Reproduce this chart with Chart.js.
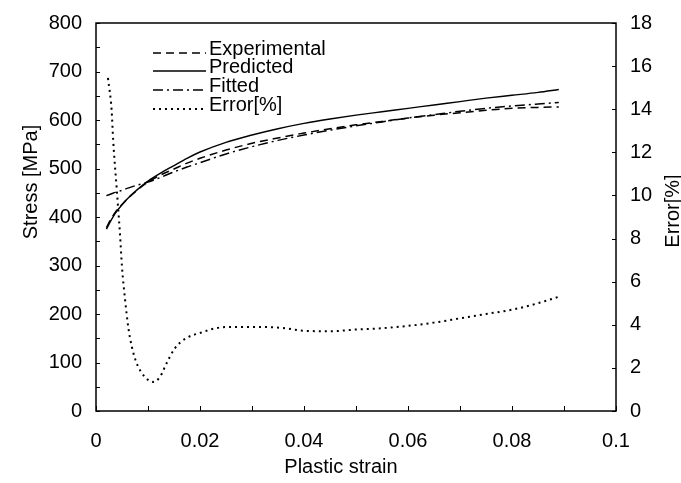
<!DOCTYPE html>
<html>
<head>
<meta charset="utf-8">
<script src="https://cdn.jsdelivr.net/npm/chart.js@4/dist/chart.umd.min.js"></script>
<style>
  html, body { margin: 0; background: #fff; }
  #wrap { width: 681px; height: 483px; }
</style>
</head>
<body>
<div id="wrap"><canvas id="c"></canvas></div>
<script>
// ---- data ----
const strain       = [0.002, 0.003, 0.004, 0.005, 0.006, 0.008, 0.010, 0.0125, 0.015, 0.0175, 0.020, 0.025, 0.030, 0.035, 0.040, 0.045, 0.050, 0.055, 0.060, 0.065, 0.070, 0.075, 0.080, 0.085, 0.089];
const experimental = [378, 398, 414, 426, 437, 456, 472, 487, 499, 511, 521, 538, 552, 563, 573, 582, 590, 597, 604, 610, 615, 620, 624, 626, 627];
const predicted    = [375, 395, 412, 425, 437, 457, 474, 491, 506, 521, 534, 554, 569, 582, 593, 602, 610, 617, 624, 631, 638, 645, 651, 657, 663];
const fitted       = [444, 448, 452, 455, 459, 466, 472, 482, 493, 503, 512, 530, 545, 558, 569, 579, 588, 596, 604, 611, 618, 624, 629, 633, 636];

const errStrain = [0.0023, 0.0030, 0.0033, 0.0040, 0.0046, 0.0050, 0.0056, 0.0062, 0.0069, 0.0078, 0.0094, 0.0110, 0.0123, 0.0136, 0.0152, 0.0174, 0.0200, 0.0232, 0.0263, 0.0309, 0.036, 0.040, 0.045, 0.050, 0.055, 0.060, 0.065, 0.070, 0.075, 0.080, 0.085, 0.089];
const errorPct  = [15.45, 13.96, 12.57, 10.25, 8.26, 6.68, 5.15, 3.90, 2.97, 2.23, 1.58, 1.35, 1.58, 2.23, 2.92, 3.39, 3.62, 3.85, 3.90, 3.90, 3.85, 3.72, 3.70, 3.78, 3.84, 3.95, 4.10, 4.30, 4.50, 4.70, 5.00, 5.30];

const seriesNames = ['Experimental', 'Predicted', 'Fitted', 'Error[%]'];

const FONT = "'Liberation Sans', Arial, sans-serif";
const FSIZE = 20;

function pts(xs, ys) {
    return xs.map((x, i) => ({ x: x, y: ys[i] }));
}

// frame, inward tick marks, axis titles and legend
const decorations = {
    id: 'decorations',
    afterDatasetsDraw(chart) {
        const ctx = chart.ctx;
        const a = chart.chartArea;
        const sx = chart.scales.x, sy = chart.scales.y, sy2 = chart.scales.y2;
        ctx.save();
        ctx.strokeStyle = '#000';
        ctx.lineWidth = 1.5;
        ctx.setLineDash([]);
        ctx.strokeRect(a.left, a.top, a.right - a.left, a.bottom - a.top);

        ctx.lineWidth = 1;
        ctx.beginPath();
        for (let v = 0; v <= 800; v += 50) {
            const p = Math.round(sy.getPixelForValue(v)) + 0.5;
            ctx.moveTo(a.left, p); ctx.lineTo(a.left + 4, p);
        }
        for (let v = 0; v <= 18; v += 2) {
            const p = Math.round(sy2.getPixelForValue(v)) + 0.5;
            ctx.moveTo(a.right, p); ctx.lineTo(a.right - 4, p);
        }
        for (let k = 0; k <= 10; k++) {
            const p = Math.round(sx.getPixelForValue(k / 100)) + 0.5;
            ctx.moveTo(p, a.bottom); ctx.lineTo(p, a.bottom - 5);
        }
        ctx.stroke();

        // axis titles
        ctx.fillStyle = '#000';
        ctx.font = FSIZE + 'px ' + FONT;
        ctx.textAlign = 'center';
        ctx.textBaseline = 'middle';
        ctx.fillText('Plastic strain', 341, 467);
        ctx.save();
        ctx.translate(31, 182);
        ctx.rotate(-Math.PI / 2);
        ctx.fillText('Stress [MPa]', 0, 0);
        ctx.restore();
        ctx.save();
        ctx.translate(673, 211);
        ctx.rotate(-Math.PI / 2);
        ctx.fillText('Error[%]', 0, 0);
        ctx.restore();

        // legend
        const rows = [53, 71, 90, 109];
        ctx.textAlign = 'left';
        ctx.textBaseline = 'alphabetic';
        chart.data.datasets.forEach((ds, i) => {
            const y = rows[i];
            ctx.lineWidth = ds.borderWidth;
            ctx.setLineDash(ds.borderDash || []);
            ctx.beginPath();
            ctx.moveTo(153, y);
            ctx.lineTo(206, y);
            ctx.stroke();
            ctx.setLineDash([]);
            ctx.fillText(ds.label, 209, y + 2);
        });
        ctx.restore();
    }
};

new Chart(document.getElementById('c'), {
    type: 'line',
    data: {
        datasets: [
            { label: seriesNames[0], data: pts(strain, experimental), yAxisID: 'y',
              borderColor: '#000', borderWidth: 1.5, borderDash: [8, 5] },
            { label: seriesNames[1], data: pts(strain, predicted), yAxisID: 'y',
              borderColor: '#000', borderWidth: 1.4 },
            { label: seriesNames[2], data: pts(strain, fitted), yAxisID: 'y',
              borderColor: '#000', borderWidth: 1.5, borderDash: [10, 4, 2, 4] },
            { label: seriesNames[3], data: pts(errStrain, errorPct), yAxisID: 'y2',
              borderColor: '#000', borderWidth: 2, borderDash: [2, 4] }
        ]
    },
    options: {
        responsive: true,
        maintainAspectRatio: false,
        animation: false,
        layout: { padding: { top: 23, left: 0, right: 0, bottom: 0 } },
        elements: {
            point: { radius: 0 },
            line: { cubicInterpolationMode: 'monotone', fill: false }
        },
        plugins: {
            legend: { display: false },
            tooltip: { enabled: false }
        },
        scales: {
            x: {
                type: 'linear', position: 'bottom', min: 0, max: 0.1,
                grid: { display: false }, border: { display: false },
                ticks: {
                    stepSize: 0.02, padding: 10, color: '#000', maxRotation: 0,
                    font: { family: FONT, size: FSIZE },
                    callback: v => (Math.round(v * 100) / 100).toString()
                },
                afterFit: s => { s.height = 72; }
            },
            y: {
                type: 'linear', position: 'left', min: 0, max: 800,
                grid: { display: false }, border: { display: false },
                ticks: { stepSize: 100, padding: 6, color: '#000', font: { family: FONT, size: FSIZE } },
                afterFit: s => { s.width = 96; }
            },
            y2: {
                type: 'linear', position: 'right', min: 0, max: 18,
                grid: { display: false }, border: { display: false },
                ticks: { stepSize: 2, padding: 6, color: '#000', font: { family: FONT, size: FSIZE } },
                afterFit: s => { s.width = 65; }
            }
        }
    },
    plugins: [decorations]
});
</script>
</body>
</html>
